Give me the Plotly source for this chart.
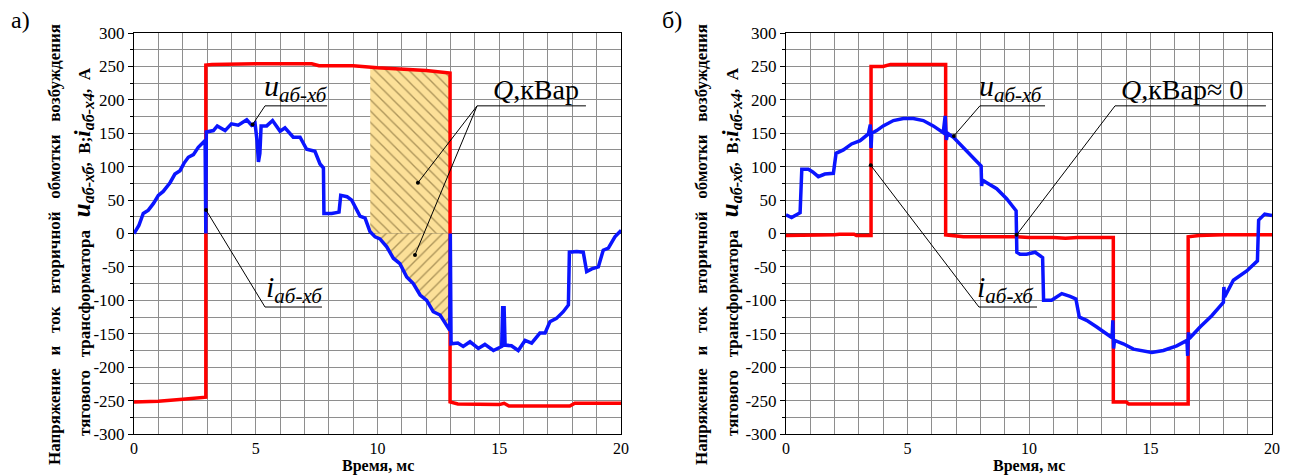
import numpy as np
import plotly.graph_objects as go

W, H = 1290, 476

# ---------------- data: panel а) ----------------
t_i_a = [0, 1.0, 2.0, 2.95, 2.95, 3.2, 5.0, 7.3, 7.6, 9.0, 10.0, 11.0, 12.0, 12.98, 12.98, 13.3,
         15.0, 15.2, 15.4, 17.9, 18.1, 20]
i_a = [-252, -251, -248, -245, 252, 253, 254, 254, 251, 251, 248, 246, 244, 240, -252, -255,
       -256, -254, -258, -258, -254, -254]

t_u_a = [0, 0.2, 0.38, 0.59, 0.8, 1.0, 1.2, 1.48, 1.68, 1.89, 2.05, 2.23, 2.44, 2.64, 2.92, 2.95,
         2.97, 3.26, 3.42, 3.74, 4.0, 4.28, 4.63, 4.83, 4.97, 5.05, 5.11, 5.17, 5.22, 5.45, 5.69,
         6.0, 6.2, 6.54, 6.82, 7.09, 7.43, 7.64, 7.78, 7.8, 8.12, 8.42, 8.49, 8.75, 8.94, 9.1, 9.28,
         9.49, 9.69, 9.9, 10.1, 10.38, 10.65, 10.92, 11.2, 11.47, 11.75, 12.02, 12.29, 12.57, 12.84,
         12.97, 12.99, 13.02, 13.3, 13.52, 13.8, 14.14, 14.41, 14.76, 15.1, 15.14, 15.2, 15.24, 15.5,
         15.78, 16.06, 16.33, 16.67, 16.88, 17.08, 17.35, 17.63, 17.84, 17.88, 18.18, 18.45, 18.59,
         18.8, 19.07, 19.27, 19.48, 19.75, 19.96, 20]
u_a = [0, 12, 30, 35, 45, 57, 63, 76, 89, 94, 105, 114, 118, 129, 139, 0,
       152, 154, 161, 154, 164, 162, 170, 162, 165, 140, 107, 120, 161, 161, 169,
       153, 158, 144, 144, 126, 123, 104, 98, 30, 30, 32, 57, 55, 50, 38, 26,
       23, 3, -5, -8, -20, -37, -45, -65, -75, -92, -100, -117, -122, -136,
       -145, 0, -165, -164, -169, -162, -172, -166, -175, -169, -111, -111, -167, -168,
       -175, -160, -164, -149, -149, -132, -127, -117, -107, -28, -27, -28, -57,
       -53, -50, -25, -22, -5, 3, 2]

# ---------------- data: panel б) ----------------
t_i_b = [0, 0.6, 1.0, 1.5, 2.0, 2.2, 2.8, 2.9, 3.5, 3.5, 4.0, 4.3, 6.57, 6.57, 7.0, 7.3, 9.5,
         10.0, 11.0, 11.5, 12.0, 12.5, 13.47, 13.47, 14.0, 14.1, 16.55, 16.55, 17.0, 18.0, 20]
i_b = [-3, -3, -2, -3, -2, -1, -1, -3, -3, 250, 250, 253, 253, -2, -3, -5, -5,
       -6, -6, -7, -6, -6, -6, -252, -252, -255, -255, -5, -3, -2, -2]

t_u_b = [0, 0.23, 0.58, 0.65, 0.92, 1.1, 1.33, 1.6, 1.95, 2.06, 2.36, 2.7, 3.05, 3.39, 3.47, 3.5,
         3.53, 3.73, 4.0, 4.42, 4.83, 5.24, 5.65, 6.06, 6.47, 6.55, 6.6, 6.65, 6.89, 7.3, 7.71,
         8.03, 8.05, 8.08, 8.26, 8.67, 9.08, 9.47, 9.5, 9.63, 9.9, 10.25, 10.56, 10.6, 10.93,
         11.35, 11.69, 11.93, 12.07, 12.37, 12.79, 13.2, 13.42, 13.45, 13.48, 13.52, 13.88, 14.3,
         14.7, 15.05, 15.53, 16.08, 16.5, 16.53, 16.56, 16.6, 17.04, 17.52, 18.0, 18.02, 18.05,
         18.41, 18.96, 19.4, 19.45, 19.7, 20]
u_b = [28, 24, 31, 96, 96, 92, 85, 89, 90, 120, 125, 134, 139, 149, 163, 128,
       150, 154, 161, 169, 172, 172, 169, 161, 151, 176, 140, 150, 144, 129, 114,
       101, 71, 80, 76, 67, 52, 34, -28, -31, -31, -28, -36, -100, -100,
       -90, -94, -98, -125, -130, -140, -150, -156, -130, -172, -160, -165, -173,
       -176, -178, -175, -168, -160, -183, -148, -157, -140, -123, -103, -80, -95,
       -70, -56, -41, 20, 29, 27]

x_tick_vals = [0, 5, 10, 15, 20]
y_tick_vals = [-300, -250, -200, -150, -100, -50, 0, 50, 100, 150, 200, 250, 300]
q_start_a, q_end_a = 9.7, 12.97

# ---------------- styling ----------------
FONT = "Liberation Serif, Times New Roman, serif"
RED = "#ff0000"
BLUE = "#0a14ff"
GRID = "#8e8e8e"
HATCH_BG = "rgb(252,224,152)"
HATCH_FG = "#5e4a1c"
SP = "\u00a0"

def px_to_paper_x(px):
    return px / W

def px_to_paper_y(py):
    return 1 - py / H

fig = go.Figure()

# ---- hatched area Q on panel a ----
tr, vr = np.array(t_i_a, float), np.array(i_a, float)
tb, vb = np.array(t_u_a, float), np.array(u_a, float)
mr = (tr > q_start_a) & (tr < q_end_a)
mb = (tb > q_start_a) & (tb < q_end_a)
top_t = np.concatenate([[q_start_a], tr[mr], [q_end_a]])
top_v = np.concatenate([[np.interp(q_start_a, tr, vr)], vr[mr], [np.interp(q_end_a, tr, vr)]])
bot_t = np.concatenate([[q_start_a], tb[mb], [q_end_a]])
bot_v = np.concatenate([[np.interp(q_start_a, tb, vb)], vb[mb], [np.interp(q_end_a, tb, vb)]])

pos_x = np.concatenate([top_t, bot_t[::-1]])
pos_y = np.concatenate([top_v, np.maximum(bot_v, 0)[::-1]])
neg_x = np.concatenate([bot_t, bot_t[::-1]])
neg_y = np.concatenate([np.minimum(bot_v, 0), np.zeros_like(bot_v)])

for xs, ys, shp in [(pos_x, pos_y, "\\"), (neg_x, neg_y, "/")]:
    fig.add_trace(go.Scatter(
        x=xs, y=ys, mode="lines", fill="toself", line=dict(width=0, color=HATCH_BG),
        fillcolor=HATCH_BG,
        fillpattern=dict(shape=shp, fgcolor=HATCH_FG, bgcolor=HATCH_BG, size=8, solidity=0.17),
        hoverinfo="skip", showlegend=False, xaxis="x", yaxis="y"))

# ---- curves ----
for (ti, vi, tu, vu, xa, ya) in [(t_i_a, i_a, t_u_a, u_a, "x", "y"),
                                 (t_i_b, i_b, t_u_b, u_b, "x2", "y2")]:
    fig.add_trace(go.Scatter(x=ti, y=vi, mode="lines", line=dict(color=RED, width=3.5),
                             showlegend=False, xaxis=xa, yaxis=ya))
    fig.add_trace(go.Scatter(x=tu, y=vu, mode="lines", line=dict(color=BLUE, width=3.5),
                             showlegend=False, xaxis=xa, yaxis=ya))

# ---- axes ----
def xaxis_cfg(domain, anchor):
    return dict(domain=domain, anchor=anchor, range=[0, 20], tickvals=x_tick_vals,
                ticktext=[str(v) for v in x_tick_vals],
                showgrid=True, gridcolor=GRID, gridwidth=1,
                minor=dict(dtick=1, tick0=0, showgrid=True, gridcolor=GRID, gridwidth=1),
                showline=True, linecolor="black", linewidth=1, mirror=True,
                ticks="", tickfont=dict(family=FONT, size=16, color="black"),
                zeroline=False, automargin=False, fixedrange=True)

def yaxis_cfg(domain, anchor):
    return dict(domain=domain, anchor=anchor, range=[-300, 300], tickvals=y_tick_vals,
                ticktext=[str(v) for v in y_tick_vals],
                showgrid=True, gridcolor=GRID, gridwidth=1,
                minor=dict(dtick=25, tick0=0, showgrid=True, gridcolor=GRID, gridwidth=1,
                           ticks="outside", ticklen=3, tickcolor="black"),
                showline=True, linecolor="black", linewidth=1, mirror=True,
                ticks="outside", ticklen=5, tickcolor="black",
                tickfont=dict(family=FONT, size=17, color="black"),
                zeroline=True, zerolinecolor="#3c3c3c", zerolinewidth=1.5,
                automargin=False, fixedrange=True)

ydom = [px_to_paper_y(434), px_to_paper_y(33)]
xdom_a = [px_to_paper_x(134), px_to_paper_x(621)]
xdom_b = [px_to_paper_x(786), px_to_paper_x(1272)]

shapes = []
annotations = []

def leader(xref, yref, x0, y0, x1, y1, dot=True):
    shapes.append(dict(type="line", xref=xref, yref=yref, x0=x0, y0=y0, x1=x1, y1=y1,
                       line=dict(color="black", width=1)))
    if dot:
        shapes.append(dict(type="circle", xref=xref, yref=yref, xsizemode="pixel",
                           ysizemode="pixel", xanchor=x1, yanchor=y1, x0=-2, x1=2, y0=-2, y1=2,
                           fillcolor="black", line=dict(width=0)))

def underline(xref, yref, xa, xb, y):
    shapes.append(dict(type="line", xref=xref, yref=yref, x0=xa, y0=y, x1=xb, y1=y,
                       line=dict(color="black", width=1)))

def label(xref, yref, x, y, text, size):
    annotations.append(dict(xref=xref, yref=yref, x=x, y=y, text=text, showarrow=False,
                            xanchor="center", yanchor="bottom",
                            font=dict(family=FONT, size=size, color="black")))

U_TXT = "<i>u</i><sub><i>аб-хб</i></sub>"
I_TXT = "<i>i</i><sub><i>аб-хб</i></sub>"

# panel a labels
underline("x", "y", 5.38, 7.93, 191); leader("x", "y", 5.38, 191, 4.87, 163)
label("x", "y", 6.65, 187, U_TXT, 30)
underline("x", "y", 5.38, 7.72, -110); leader("x", "y", 5.38, -110, 2.96, 35)
label("x", "y", 6.61, -114, I_TXT, 30)
underline("x", "y", 14.09, 18.56, 191)
leader("x", "y", 14.09, 191, 11.66, 76); leader("x", "y", 14.09, 191, 11.54, -32)
label("x", "y", 16.5, 189, "<i>Q</i>,кВар", 28)

# panel b labels
underline("x2", "y2", 7.98, 10.66, 191); leader("x2", "y2", 7.98, 191, 6.91, 146)
label("x2", "y2", 9.26, 187, U_TXT, 30)
underline("x2", "y2", 13.54, 19.75, 191); leader("x2", "y2", 13.54, 191, 9.49, -2)
label("x2", "y2", 16.3, 189, "<i>Q</i>,кВар≈ 0", 28)
underline("x2", "y2", 7.94, 10.33, -110); leader("x2", "y2", 7.94, -110, 3.49, 102)
label("x2", "y2", 9.05, -114, I_TXT, 30)

# axis titles, panel letters
Y1 = "<b>" + (SP * 3).join(["Напряжение", "и", "ток", "вторичной", "обмотки", "возбуждения"]) + "</b>"
Y2 = ("<b>тягового" + SP * 3 + "трансформатора" + SP * 3
      + "<span style='font-size:25px'><i>u</i></span>"
      "<sub><span style='font-size:16px'><i>аб-хб</i></span></sub>," + SP * 2 + "В;"
      "<span style='font-size:23px'><i>i</i></span>"
      "<sub><span style='font-size:16px'><i>аб-х4</i></span></sub>," + SP * 2 + "А</b>")
for (x1px, x2px, xt_px, letter, lx) in [(55, 82, 378, "а)", 20), (702, 730, 1029, "б)", 672)]:
    annotations.append(dict(xref="paper", yref="paper", x=px_to_paper_x(x1px),
                            y=px_to_paper_y(245), text=Y1, textangle=-90, showarrow=False,
                            xanchor="center", yanchor="middle",
                            font=dict(family=FONT, size=17, color="black")))
    annotations.append(dict(xref="paper", yref="paper", x=px_to_paper_x(x2px),
                            y=px_to_paper_y(252), text=Y2, textangle=-90, showarrow=False,
                            xanchor="center", yanchor="middle",
                            font=dict(family=FONT, size=17, color="black")))
    annotations.append(dict(xref="paper", yref="paper", x=px_to_paper_x(xt_px),
                            y=0, text="<b>Время, мс</b>", showarrow=False,
                            xanchor="center", yanchor="bottom", borderpad=0,
                            font=dict(family=FONT, size=16, color="black")))
    annotations.append(dict(xref="paper", yref="paper", x=px_to_paper_x(lx),
                            y=px_to_paper_y(20), text=letter, showarrow=False,
                            xanchor="center", yanchor="middle",
                            font=dict(family=FONT, size=24, color="black")))

fig.update_layout(
    width=W, height=H, margin=dict(l=0, r=0, t=0, b=0, autoexpand=False),
    paper_bgcolor="white", plot_bgcolor="white",
    font=dict(family=FONT, color="black"),
    xaxis=xaxis_cfg(xdom_a, "y"), yaxis=yaxis_cfg(ydom, "x"),
    xaxis2=xaxis_cfg(xdom_b, "y2"), yaxis2=yaxis_cfg(ydom, "x2"),
    shapes=shapes, annotations=annotations, showlegend=False,
)

fig.write_html("out.html", config={"displayModeBar": False, "staticPlot": True},
               post_script="document.body.style.margin='0';document.body.style.overflow='hidden';")
